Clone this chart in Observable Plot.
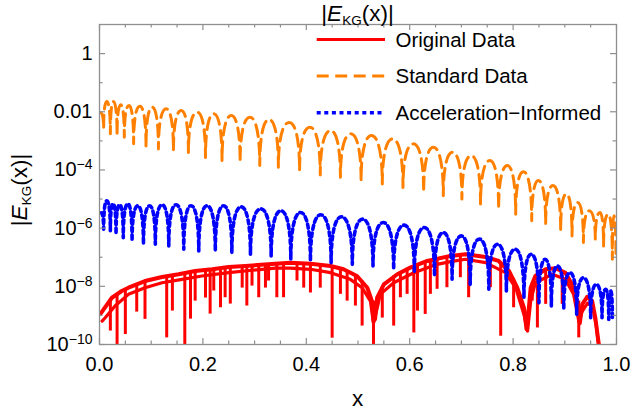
<!DOCTYPE html>
<html>
<head>
<meta charset="utf-8">
<script src="https://cdn.jsdelivr.net/npm/d3@7"></script>
<script src="https://cdn.jsdelivr.net/npm/@observablehq/plot@0.6"></script>
<style>
  html, body { margin: 0; padding: 0; background: #fff; }
  #wrap { position: relative; width: 631px; height: 417px; overflow: hidden; font-family: "Liberation Sans", Arial, sans-serif; color: #000; }
  #wrap svg { position: absolute; left: 0; top: 0; }
  .lab { position: absolute; white-space: nowrap; font-size: 22.5px; line-height: 26px; }
  .sub { font-size: 0.6em; position: relative; top: 0.3em; line-height: 0; }
  .leg { position: absolute; left: 395.5px; font-size: 20.5px; line-height: 24px; white-space: nowrap; }
</style>
</head>
<body>
<div id="wrap"></div>
<script>
// ---------- data ----------
// Standard Data (orange, dashed): alternating lobe tops and dips
const stdX = [0.002, 0.008, 0.014, 0.021, 0.027, 0.034, 0.041, 0.048, 0.057, 0.066, 0.078, 0.090, 0.102, 0.114, 0.129, 0.143, 0.158, 0.172, 0.189, 0.205, 0.221, 0.237, 0.255, 0.272, 0.291, 0.310, 0.328, 0.346, 0.367, 0.387, 0.407, 0.427, 0.447, 0.466, 0.486, 0.506, 0.526, 0.547, 0.567, 0.587, 0.607, 0.627, 0.646, 0.665, 0.683, 0.701, 0.719, 0.737, 0.755, 0.772, 0.789, 0.805, 0.820, 0.836, 0.849, 0.863, 0.877, 0.892, 0.903, 0.914, 0.925, 0.936, 0.947, 0.959, 0.968, 0.975, 0.984, 0.992, 0.995, 0.999];
const stdY = [0.0095, 2.6e-3, 0.0226, 1.74e-3, 0.0226, 1.52e-3, 0.0174, 1.33e-3, 0.0165, 7.9e-4, 0.0156, 6.0e-4, 0.0144, 5.3e-4, 0.0127, 4.6e-4, 0.0111, 4.0e-4, 0.0097, 2.7e-4, 8.5e-3, 2.1e-4, 7.45e-3, 1.83e-4, 6.5e-3, 1.41e-4, 5.4e-3, 1.23e-4, 4.3e-3, 9.5e-5, 2.94e-3, 6.7e-5, 2.26e-3, 5.6e-5, 1.74e-3, 4.3e-5, 1.52e-3, 3.3e-5, 1.17e-3, 2.5e-5, 7.9e-4, 1.69e-5, 6.0e-4, 1.3e-5, 4.05e-4, 1.0e-5, 3.1e-4, 6.7e-6, 2.1e-4, 4.5e-6, 1.41e-4, 3.0e-6, 8.7e-5, 1.79e-6, 4.3e-5, 1.37e-6, 2.9e-5, 8.1e-7, 1.49e-5, 5.4e-7, 7.6e-6, 3.2e-7, 3.95e-6, 4.2e-7, 3.45e-6, 2.45e-7, 3.0e-6, 8.5e-8, 2.65e-6, 8.7e-8];

// Acceleration-Informed (blue, dotted)
const accX = [0.003, 0.008, 0.014, 0.021, 0.026, 0.032, 0.039, 0.046, 0.055, 0.063, 0.074, 0.085, 0.097, 0.108, 0.121, 0.134, 0.148, 0.163, 0.177, 0.192, 0.208, 0.224, 0.240, 0.256, 0.274, 0.292, 0.312, 0.332, 0.351, 0.370, 0.389, 0.408, 0.428, 0.448, 0.468, 0.489, 0.509, 0.529, 0.549, 0.569, 0.589, 0.609, 0.628, 0.648, 0.665, 0.682, 0.700, 0.717, 0.735, 0.753, 0.770, 0.787, 0.804, 0.821, 0.835, 0.850, 0.862, 0.874, 0.886, 0.898, 0.910, 0.923, 0.936, 0.950, 0.961, 0.972, 0.979, 0.985, 0.989, 0.992];
const accY = [3.4e-6, 9.2e-7, 8.7e-6, 8.1e-7, 6.9e-6, 6.2e-7, 6.4e-6, 4.7e-7, 6.9e-6, 3.65e-7, 5.9e-6, 2.8e-7, 5.9e-6, 2.8e-7, 6.4e-6, 2.45e-7, 6.4e-6, 1.89e-7, 5.9e-6, 1.65e-7, 5.9e-6, 1.65e-7, 5.9e-6, 1.44e-7, 5.4e-6, 1.27e-7, 4.6e-6, 1.11e-7, 3.95e-6, 8.5e-8, 3.45e-6, 7.45e-8, 2.88e-6, 6.5e-8, 2.45e-6, 5.7e-8, 2.04e-6, 5.0e-8, 1.56e-6, 3.85e-8, 1.27e-6, 2.94e-8, 1.05e-6, 2.26e-8, 7.05e-7, 1.74e-8, 5.4e-7, 1.17e-8, 4.2e-7, 7.9e-9, 2.8e-7, 6.9e-9, 1.89e-7, 4.05e-9, 1.27e-7, 2.7e-9, 8.5e-8, 2.1e-9, 5.0e-8, 1.61e-9, 2.94e-8, 1.08e-9, 1.98e-8, 8.3e-10, 1.17e-8, 8.3e-10, 7.9e-9, 7.3e-10, 6.9e-9, 7.3e-10];

// Original Data (red): upper and lower traces of the band
const origUpX = [0.003, 0.008, 0.024, 0.043, 0.056, 0.088, 0.121, 0.153, 0.185, 0.218, 0.250, 0.282, 0.340, 0.369, 0.408, 0.447, 0.472, 0.498, 0.518, 0.527, 0.530, 0.533, 0.537, 0.550, 0.576, 0.601, 0.634, 0.679, 0.708, 0.747, 0.772, 0.792, 0.808, 0.821, 0.826, 0.830, 0.834, 0.843, 0.863, 0.882, 0.901, 0.914, 0.924, 0.929, 0.934, 0.943, 0.953, 0.959, 0.965, 0.966];
const origUpY = [1.2e-9, 1.61e-9, 4.05e-9, 6.9e-9, 8.95e-9, 1.52e-8, 2.1e-8, 2.6e-8, 3.37e-8, 3.85e-8, 4.6e-8, 5.0e-8, 6.0e-8, 6.5e-8, 6.0e-8, 5.0e-8, 3.85e-8, 2.26e-8, 8.95e-9, 3.1e-9, 6.4e-10, 7.45e-10, 4.05e-9, 1.17e-8, 2.6e-8, 4.4e-8, 7.45e-8, 1.11e-7, 1.27e-7, 1.02e-7, 7.45e-8, 3.37e-8, 8.95e-9, 1.83e-9, 3.37e-10, 1.41e-9, 8.95e-9, 2.26e-8, 3.85e-8, 4.2e-8, 2.94e-8, 1.17e-8, 3.1e-9, 5.4e-10, 2.45e-9, 4.3e-9, 3.1e-9, 8.3e-10, 1.3e-10, 1e-10];
const origLoX = [0.005, 0.011, 0.030, 0.056, 0.088, 0.121, 0.160, 0.198, 0.250, 0.295, 0.340, 0.369, 0.408, 0.447, 0.485, 0.508, 0.524, 0.530, 0.538, 0.543, 0.569, 0.608, 0.653, 0.679, 0.708, 0.747, 0.785, 0.805, 0.821, 0.828, 0.834, 0.843, 0.876, 0.901, 0.917, 0.927, 0.934, 0.944, 0.954, 0.961, 0.965];
const origLoY = [6.4e-10, 8.3e-10, 2.1e-9, 5.3e-9, 8.95e-9, 1.33e-8, 1.74e-8, 2.26e-8, 2.94e-8, 3.56e-8, 4.2e-8, 4.2e-8, 3.85e-8, 2.94e-8, 1.74e-8, 8.95e-9, 3.1e-9, 5.4e-10, 2.1e-9, 5.3e-9, 1.33e-8, 2.94e-8, 5.7e-8, 7.05e-8, 8.5e-8, 6.5e-8, 2.94e-8, 8.95e-9, 1.08e-9, 2.9e-10, 3.1e-9, 1.33e-8, 2.6e-8, 1.74e-8, 5.3e-9, 6.4e-10, 1.41e-9, 2.65e-9, 1.93e-9, 4.3e-10, 1e-10];
// Original Data downward spikes: position, top, bottom
const spikeX = [0.021, 0.034, 0.050, 0.072, 0.088, 0.130, 0.141, 0.165, 0.176, 0.185, 0.205, 0.214, 0.221, 0.234, 0.243, 0.253, 0.276, 0.285, 0.295, 0.308, 0.321, 0.327, 0.343, 0.356, 0.382, 0.395, 0.408, 0.427, 0.450, 0.466, 0.479, 0.495, 0.508, 0.530, 0.547, 0.569, 0.582, 0.595, 0.608, 0.615, 0.630, 0.640, 0.653, 0.672, 0.698, 0.714, 0.756, 0.776, 0.801, 0.837, 0.847, 0.863, 0.895, 0.927];
const spikeTop = [3.65e-9, 5.4e-9, 8.1e-9, 1.2e-8, 1.52e-8, 2.26e-8, 2.45e-8, 2.88e-8, 3.1e-8, 3.37e-8, 3.65e-8, 3.8e-8, 3.95e-8, 4.3e-8, 4.45e-8, 4.6e-8, 5e-8, 5e-8, 5.2e-8, 5.4e-8, 5.65e-8, 5.9e-8, 6e-8, 6.35e-8, 6.35e-8, 6.35e-8, 6e-8, 5.4e-8, 4.8e-8, 4.3e-8, 3.5e-8, 2.45e-8, 1.52e-8, 3.1e-9, 9.5e-9, 2.26e-8, 2.88e-8, 3.95e-8, 4.6e-8, 5e-8, 6.35e-8, 7.45e-8, 8.7e-8, 1.02e-7, 1.2e-7, 1.24e-7, 9.5e-8, 6.9e-8, 1.79e-8, 1.3e-8, 2.65e-8, 3.85e-8, 3.37e-8, 3.1e-9];
const spikeBottom = [2.9e-10, 1e-10, 2.2e-10, 1.3e-9, 7.3e-10, 1.69e-10, 1.41e-9, 1e-10, 7.45e-10, 3.1e-9, 3.95e-9, 1.11e-9, 6.9e-9, 1.83e-9, 4.05e-9, 2.45e-9, 8.7e-9, 2.1e-9, 1.02e-8, 4.05e-9, 8.7e-9, 1.52e-8, 4.05e-9, 4.05e-9, 1.52e-8, 8.7e-9, 5.9e-9, 8.7e-9, 1.65e-10, 5.3e-9, 3.1e-9, 2.1e-9, 4.3e-10, 1e-10, 8.1e-10, 4.3e-10, 4.05e-9, 5.3e-9, 2.5e-10, 1.41e-9, 1.08e-9, 5.3e-9, 7.9e-9, 8.95e-9, 1.98e-8, 4.05e-9, 8.95e-9, 1.93e-10, 1.83e-9, 3.1e-9, 3.7e-10, 2.4e-9, 2.4e-9, 1.69e-10];

// ticks
const xMajor = [0, 0.2, 0.4, 0.6, 0.8, 1.0];
const xMajorText = ["0.0", "0.2", "0.4", "0.6", "0.8", "1.0"];
const xMinor = [0.05, 0.1, 0.15, 0.25, 0.3, 0.35, 0.45, 0.5, 0.55, 0.65, 0.7, 0.75, 0.85, 0.9, 0.95];
const yMajor = [1e-10, 1e-8, 1e-6, 1e-4, 1e-2, 1];
const yMajorText = ["10^−10", "10^−8", "10^−6", "10^−4", "0.01", "1"];
const yMinor = [1e-9, 1e-7, 1e-5, 1e-3, 1e-1];

const seriesNames = ["Original Data", "Standard Data", "Acceleration\u2212Informed"];
const seriesColors = ["#ff0000", "#ff8000", "#0000ff"];
const seriesDash = [null, "12,6.5", "4,3.6"];
const seriesWidth = [3.4, 3, 3.6];

// ---------- arch-shaped curve: vertical at dips, flat at tops ----------
function archCurve(context) {
  let x0, y0, n = 0;
  const k = 0.62;
  return {
    areaStart() {}, areaEnd() {},
    lineStart() { n = 0; },
    lineEnd() {},
    point(x, y) {
      x = +x; y = +y;
      if (n === 0) context.moveTo(x, y);
      else if (y < y0) context.bezierCurveTo(x0, y0 + (y - y0) * k, x - (x - x0) * k, y, x, y);
      else context.bezierCurveTo(x0 + (x - x0) * k, y0, x, y - (y - y0) * k, x, y);
      x0 = x; y0 = y; n++;
    }
  };
}

const W = 631, H = 417, mL = 99, mR = 15, mT = 24, mB = 73;
const fw = W - mL - mR, fh = H - mT - mB;
const gray = "#8f8f8f";

const chart = Plot.plot({
  width: W, height: H,
  marginLeft: mL, marginRight: mR, marginTop: mT, marginBottom: mB,
  x: {domain: [0, 1]},
  y: {type: "log", domain: [1e-10, 10]},
  style: {fontFamily: "'Liberation Sans', Arial, sans-serif", color: "#000", background: "transparent", overflow: "visible"},
  marks: [
    // Original Data
    Plot.line(origLoY, {x: origLoX, y: origLoY, stroke: seriesColors[0], strokeWidth: 3.2, clip: true}),
    Plot.line(origUpY, {x: origUpX, y: origUpY, stroke: seriesColors[0], strokeWidth: 4, clip: true}),
    Plot.ruleX(spikeX, {x: spikeX, y1: spikeTop, y2: spikeBottom, stroke: seriesColors[0], strokeWidth: 3, clip: true}),
    // Standard Data
    Plot.line(stdY, {x: stdX, y: stdY, stroke: seriesColors[1], strokeWidth: seriesWidth[1], strokeDasharray: seriesDash[1], curve: archCurve, clip: true}),
    // Acceleration-Informed
    Plot.line(accY, {x: accX, y: accY, stroke: seriesColors[2], strokeWidth: seriesWidth[2], strokeDasharray: seriesDash[2], curve: archCurve, clip: true}),
    // frame & ticks
    Plot.frame({stroke: gray, strokeWidth: 1.3}),
    Plot.tickX(xMajor, {x: xMajor, insetTop: fh - 6, stroke: gray, strokeWidth: 1.2}),
    Plot.tickX(xMajor, {x: xMajor, insetBottom: fh - 6, stroke: gray, strokeWidth: 1.2}),
    Plot.tickX(xMinor, {x: xMinor, insetTop: fh - 3.5, stroke: gray, strokeWidth: 1.2}),
    Plot.tickX(xMinor, {x: xMinor, insetBottom: fh - 3.5, stroke: gray, strokeWidth: 1.2}),
    Plot.tickY(yMajor, {y: yMajor, insetRight: fw - 6, stroke: gray, strokeWidth: 1.2}),
    Plot.tickY(yMajor, {y: yMajor, insetLeft: fw - 6, stroke: gray, strokeWidth: 1.2}),
    Plot.tickY(yMinor, {y: yMinor, insetRight: fw - 3.5, stroke: gray, strokeWidth: 1.2}),
    Plot.tickY(yMinor, {y: yMinor, insetLeft: fw - 3.5, stroke: gray, strokeWidth: 1.2}),
    Plot.axisX(xMajor, {tickSize: 0, tickPadding: 12, fontSize: 20, label: null, tickFormat: d => xMajorText[xMajor.indexOf(d)]}),
    Plot.axisY(yMajor, {tickSize: 0, tickPadding: 7, fontSize: 20, label: null, tickFormat: d => yMajorText[yMajor.indexOf(d)]})
  ]
});

const wrap = document.getElementById("wrap");
wrap.appendChild(chart);

// superscripts on the y tick labels
chart.querySelectorAll('g[aria-label="y-axis tick label"] text').forEach(t => {
  const s = t.textContent;
  if (s.includes("^")) {
    const [base, exp] = s.split("^");
    while (t.firstChild) t.removeChild(t.firstChild);
    t.appendChild(document.createTextNode(base));
    const ts = document.createElementNS("http://www.w3.org/2000/svg", "tspan");
    ts.setAttribute("font-size", "14");
    ts.setAttribute("dy", "-7");
    ts.textContent = exp;
    t.appendChild(ts);
  }
});

// title, axis labels
function addLabel(html, css) {
  const d = document.createElement("div");
  d.className = "lab";
  d.innerHTML = html;
  Object.assign(d.style, css);
  wrap.appendChild(d);
  return d;
}
const ekg = '|<i>E</i><span class="sub">KG</span>(x)|';
addLabel(ekg, {left: "357.5px", top: "0.5px", transform: "translateX(-50%)"});
addLabel(ekg, {left: "20px", top: "190px", transform: "translate(-50%,-50%) rotate(-90deg)"});
addLabel("x", {left: "357.5px", top: "386px", transform: "translateX(-50%)"});

// legend (inside the frame, top right)
const legTops = [27.6, 64.2, 100.9];
const legSvg = d3.create("svg").attr("width", 80).attr("height", 110)
  .style("left", "312px").style("top", "20px");
seriesNames.forEach((name, i) => {
  const cy = legTops[i] + 19.1 - 7.2 - 20;
  legSvg.append("line").attr("x1", 4.7).attr("x2", 73).attr("y1", cy).attr("y2", cy)
    .attr("stroke", seriesColors[i]).attr("stroke-width", i === 0 ? 3 : seriesWidth[i])
    .attr("stroke-dasharray", seriesDash[i]);
  const d = document.createElement("div");
  d.className = "leg";
  d.style.top = legTops[i] + "px";
  d.textContent = name;
  wrap.appendChild(d);
});
wrap.appendChild(legSvg.node());
</script>
</body>
</html>
